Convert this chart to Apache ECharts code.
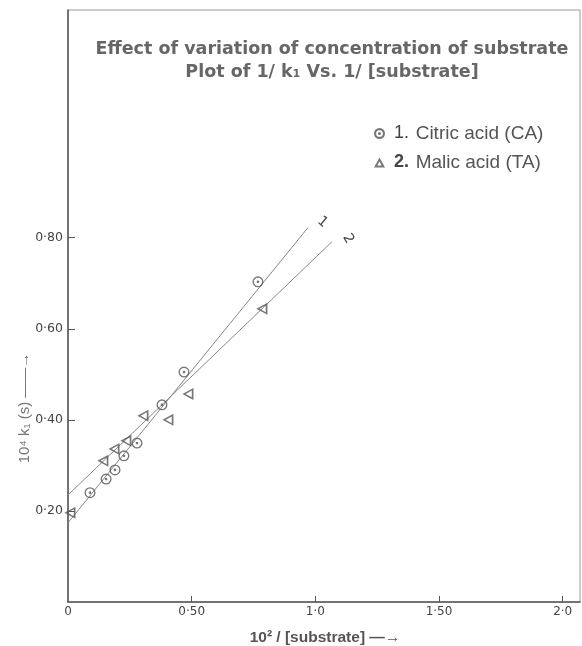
<!DOCTYPE html>
<html><head><meta charset="utf-8">
<script src="https://cdn.jsdelivr.net/npm/echarts@6/dist/echarts.min.js"></script>
<style>html,body{margin:0;padding:0;background:#fff}#c{width:582px;height:646px}</style>
</head><body><div id="c"></div>
<script>
// ---- data ----
const citricX = [0.089, 0.154, 0.190, 0.226, 0.279, 0.380, 0.469, 0.768];
const citricY = [0.240, 0.270, 0.290, 0.321, 0.349, 0.433, 0.505, 0.703];
const malicX  = [0.008, 0.141, 0.186, 0.234, 0.303, 0.404, 0.485, 0.784];
const malicY  = [0.196, 0.310, 0.336, 0.354, 0.409, 0.400, 0.457, 0.644];
const line1X = [0, 0.970];
const line1Y = [0.174, 0.822];
const line2X = [0, 1.067];
const line2Y = [0.235, 0.791];
const xTicks = [0, 0.5, 1.0, 1.5, 2.0];
const xTickLabels = ['0', '0·50', '1·0', '1·50', '2·0'];
const yTicks = [0.2, 0.4, 0.6, 0.8];
const yTickLabels = ['0·20', '0·40', '0·60', '0·80'];
const seriesNames = ['Citric acid (CA)', 'Malic acid (TA)'];
const lineNames = ['1', '2'];
const titleLines = ['Effect of variation of concentration of substrate', 'Plot of 1/ k\u2081 Vs. 1/ [substrate]'];

const zip = (a, b) => a.map((v, i) => [v, b[i]]);
const ringPath = 'path://M1,10A9,9 0 1,1 19,10A9,9 0 1,1 1,10ZM3.2,10A6.8,6.8 0 1,0 16.8,10A6.8,6.8 0 1,0 3.2,10ZM7.8,10A2.2,2.2 0 1,1 12.2,10A2.2,2.2 0 1,1 7.8,10Z';
const ringBold = 'path://M1,10A9,9 0 1,1 19,10A9,9 0 1,1 1,10ZM4.5,10A5.5,5.5 0 1,0 15.5,10A5.5,5.5 0 1,0 4.5,10ZM7.5,10A2.5,2.5 0 1,1 12.5,10A2.5,2.5 0 1,1 7.5,10Z';
const triPath = 'path://M10,1L19.5,18.5L0.5,18.5ZM10,6.2L4.6,15.8L15.4,15.8Z';
const triBold = 'path://M10,1L19.5,18.5L0.5,18.5ZM10,8L6.2,14.8L13.8,14.8Z';

const chart = echarts.init(document.getElementById('c'), null, {renderer: 'canvas'});
chart.setOption({
  animation: false,
  backgroundColor: '#fff',
  title: {
    text: titleLines.join('\n'),
    left: 327, top: 33, textAlign: 'center',
    textStyle: {color: '#666', fontSize: 17.5, fontWeight: 'bold', fontFamily: 'DejaVu Sans', lineHeight: 23}
  },
  legend: {
    orient: 'vertical', left: 369, top: 119, itemGap: 10,
    itemWidth: 11, itemHeight: 11,
    data: [{name: seriesNames[0], icon: ringBold}, {name: seriesNames[1], icon: triBold}],
    formatter: n => n === seriesNames[0] ? '{a|1.}  {t|' + n + '}' : '{b|2.}  {t|' + n + '}',
    textStyle: {
      rich: {
        a: {color: '#444', fontSize: 18, fontFamily: 'Liberation Sans', padding: [0, 0, 0, 4], lineHeight: 20},
        b: {color: '#444', fontSize: 18, fontWeight: 'bold', fontFamily: 'Liberation Sans', padding: [0, 0, 0, 4], lineHeight: 20},
        t: {color: '#555', fontSize: 19, fontFamily: 'Liberation Sans', lineHeight: 20}
      }
    }
  },
  grid: {left: 68, top: 10, right: 2, bottom: 44, show: true, borderColor: '#9a9a9a', borderWidth: 1, containLabel: false},
  xAxis: {
    type: 'value', min: 0, max: 2.07, interval: 0.5,
    splitLine: {show: false},
    axisLine: {lineStyle: {color: '#555', width: 1.5}},
    axisTick: {inside: true, length: 6, customValues: xTicks.slice(1), lineStyle: {color: '#555'}},
    axisLabel: {customValues: xTicks, formatter: v => xTickLabels[xTicks.indexOf(v)] || '',
      color: '#444', fontSize: 12, fontFamily: 'DejaVu Sans', margin: 4},
  },
  yAxis: {
    type: 'value', min: 0, max: 1.3, interval: 0.2,
    splitLine: {show: false},
    axisLine: {lineStyle: {color: '#555', width: 1.5}},
    axisTick: {inside: true, length: 7, customValues: yTicks, lineStyle: {color: '#555'}},
    axisLabel: {customValues: yTicks, formatter: v => { const i = yTicks.findIndex(t => Math.abs(t - v) < 1e-6); return i >= 0 ? yTickLabels[i] : ''; },
      color: '#444', fontSize: 12.5, fontFamily: 'DejaVu Sans', margin: 5},
  },
  graphic: [
    {type: 'text', x: 25, y: 408, rotation: Math.PI / 2, style: {text: '10\u2074 k\u2081 (s) \u2014\u2014\u2192', fill: '#777', fontSize: 15, fontFamily: 'Liberation Sans', align: 'center', verticalAlign: 'middle'}},
    {type: 'text', x: 325, y: 638, style: {text: '10\u00b2 / [substrate] \u2014\u2192', fill: '#555', fontSize: 15.5, fontWeight: 'bold', fontFamily: 'Liberation Sans', align: 'center', verticalAlign: 'middle'}}
  ],
  series: [
    {name: seriesNames[0], type: 'scatter', data: zip(citricX, citricY), symbol: ringPath, symbolSize: 11, symbolKeepAspect: true,
      itemStyle: {color: '#555'}, z: 5},
    {name: seriesNames[1], type: 'scatter', data: zip(malicX, malicY), symbol: triPath, symbolSize: 12, symbolRotate: 90, symbolKeepAspect: true,
      itemStyle: {color: '#555'}, z: 5},
    {name: lineNames[0], type: 'line', data: zip(line1X, line1Y), showSymbol: false, symbol: 'none',
      lineStyle: {color: '#888', width: 1}, z: 3,
      endLabel: {show: true, formatter: '{a}', rotate: -40, distance: 4, offset: [0, -11], color: '#444', fontSize: 14, fontFamily: 'DejaVu Sans'}},
    {name: lineNames[1], type: 'line', data: zip(line2X, line2Y), showSymbol: false, symbol: 'none',
      lineStyle: {color: '#888', width: 1}, z: 3,
      endLabel: {show: true, formatter: '{a}', rotate: -60, distance: 4, offset: [-1, -12], color: '#444', fontSize: 14, fontFamily: 'DejaVu Sans'}}
  ]
});
</script></body></html>
